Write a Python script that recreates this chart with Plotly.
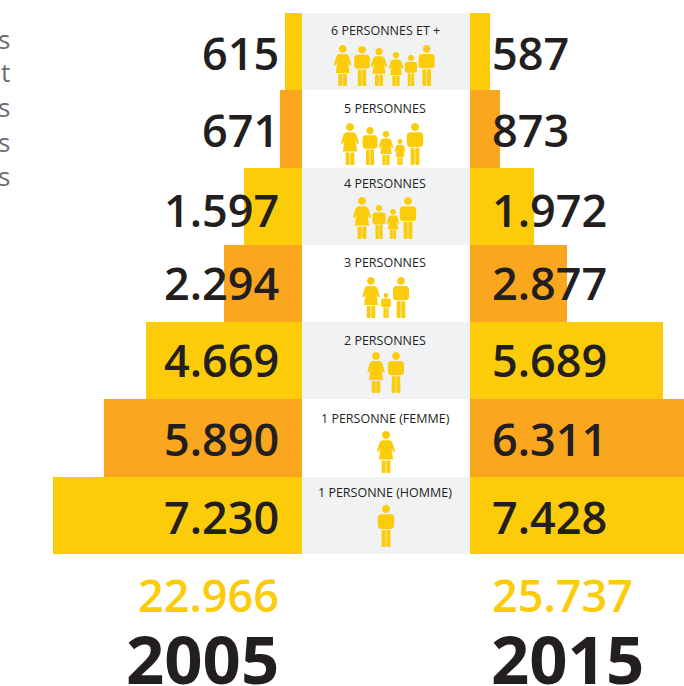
import math
import plotly.graph_objects as go

W, H = 684, 686
categories = ["6 PERSONNES ET +", "5 PERSONNES", "4 PERSONNES", "3 PERSONNES",
              "2 PERSONNES", "1 PERSONNE (FEMME)", "1 PERSONNE (HOMME)"]
labels_2005 = ["615", "671", "1.597", "2.294", "4.669", "5.890", "7.230"]
labels_2015 = ["587", "873", "1.972", "2.877", "5.689", "6.311", "7.428"]
# bar lengths
bars_2005 = [500, 647, 1706, 2294, 4588, 5824, 7324]
bars_2015 = [588, 882, 1882, 2853, 5676, 6311, 7428]
panel_fill = [1, 0, 1, 0, 1, 0, 1]
bar_colors = ["#FCCC0A", "#FAA61E", "#FCCC0A", "#FAA61E", "#FCCC0A", "#FAA61E", "#FCCC0A"]
panel_colors = ["#F0F2F4" if v else "#FFFFFF" for v in panel_fill]
total_2005, total_2015 = "22.966", "25.737"
year_2005, year_2015 = "2005", "2015"
clipped_letters = ["s", "t", "s", "s", "s"]

YELLOW, DARK = "#FCCC0A", "#231F20"
FONT = "Open Sans"
SCALE = 0.034  # px per unit

fig = go.Figure()
fig.add_bar(y=categories, x=bars_2005, orientation="h", marker=dict(color=bar_colors, line_width=0),
            xaxis="x", yaxis="y", hoverinfo="skip")
fig.add_bar(y=categories, x=bars_2015, orientation="h", marker=dict(color=bar_colors, line_width=0),
            xaxis="x2", yaxis="y", hoverinfo="skip")
fig.add_bar(y=categories, x=[1] * 7, orientation="h", marker=dict(color=panel_colors, line_width=0),
            xaxis="x3", yaxis="y", hoverinfo="skip")

PX, PY = (lambda x: x / W), (lambda y: 1 - y / H)
def path(points):
    return "M" + " L".join(f"{PX(x):.5f},{PY(y):.5f}" for x, y in points) + " Z"
def circle(cx, cy, r):
    return path([(cx + r * math.cos(i * math.pi / 12), cy + r * math.sin(i * math.pi / 12)) for i in range(24)])
def rrect(x0, y0, x1, y1, r):
    pts = []
    for cx, cy, a in ((x1 - r, y0 + r, -90), (x1 - r, y1 - r, 0), (x0 + r, y1 - r, 90), (x0 + r, y0 + r, 180)):
        for k in range(5):
            t = math.radians(a + k * 22.5)
            pts.append((cx + r * math.cos(t), cy + r * math.sin(t)))
    return path(pts)

def man(cx, top, bot):
    h = bot - top
    d = [circle(cx, top + .095 * h, .095 * h)]
    w = .195 * h
    d.append(rrect(cx - w, top + .22 * h, cx + w, top + .57 * h, .08 * h))
    lw = .105 * h
    d.append(rrect(cx - lw, top + .59 * h, cx - .008 * h, bot, .025 * h))
    d.append(rrect(cx + .008 * h, top + .59 * h, cx + lw, bot, .025 * h))
    return " ".join(d)

def woman(cx, top, bot):
    h = bot - top
    d = [circle(cx, top + .095 * h, .095 * h)]
    d.append(path([(cx - .09 * h, top + .22 * h), (cx + .09 * h, top + .22 * h),
                   (cx + .15 * h, top + .26 * h), (cx + .215 * h, top + .48 * h),
                   (cx + .17 * h, top + .5 * h), (cx + .13 * h, top + .4 * h),
                   (cx + .17 * h, top + .68 * h), (cx - .17 * h, top + .68 * h),
                   (cx - .13 * h, top + .4 * h), (cx - .17 * h, top + .5 * h),
                   (cx - .215 * h, top + .48 * h), (cx - .15 * h, top + .26 * h)]))
    lw = .105 * h
    d.append(rrect(cx - lw, top + .70 * h, cx - .008 * h, bot, .025 * h))
    d.append(rrect(cx + .008 * h, top + .70 * h, cx + lw, bot, .025 * h))
    return " ".join(d)

icons = [
    (86, [(woman, 342.7, 45), (man, 362, 46), (woman, 379, 48), (woman, 396, 52), (man, 411, 55), (man, 426.7, 45)]),
    (165, [(woman, 350, 123), (man, 370, 127), (woman, 386, 131), (woman, 400, 139), (man, 415, 123)]),
    (239, [(woman, 362, 197), (man, 379, 205), (woman, 393, 209), (man, 408, 197)]),
    (318, [(woman, 371, 277), (man, 386, 293), (man, 401, 277)]),
    (393, [(woman, 376, 352), (man, 396, 352)]),
    (473, [(woman, 386, 431)]),
    (547, [(man, 386, 505)]),
]
shapes = []
for bottom, people in icons:
    for fn, cx, top in people:
        shapes.append(dict(type="path", xref="paper", yref="paper", path=fn(cx, top, bottom),
                           fillcolor=YELLOW, line_width=0, layer="above"))

def note(text, x, y, size, color=DARK, anchor="center", weight=400):
    fig.add_annotation(text=text, xref="paper", yref="paper", x=PX(x), y=PY(y), showarrow=False,
                       xanchor=anchor, yanchor="middle", borderpad=0,
                       font=dict(family=FONT, size=size, color=color, weight=weight))

label_y = [52, 130, 209, 282, 359, 438, 516]
caption_y = [30, 108.5, 184, 262, 340, 418, 492]
for i, cat in enumerate(categories):
    note(labels_2005[i], 279.5, label_y[i], 45, anchor="right", weight=600)
    note(labels_2015[i], 490.5, label_y[i], 45, anchor="left", weight=600)
    note(cat, 385, caption_y[i], 12.5)
note(total_2005, 279.5, 594, 45, YELLOW, "right", 600)
note(total_2015, 490.5, 594, 45, YELLOW, "left", 600)
note(year_2005, 280, 658, 67, anchor="right", weight=700)
note(year_2015, 490, 658, 67, anchor="left", weight=700)
for ch, y in zip(clipped_letters, [39, 72, 107, 142, 176]):
    note(ch, 10.5, y, 26, "#6D6E71", "right")

hidden = dict(showgrid=False, zeroline=False, showticklabels=False, ticks="", showline=False, fixedrange=True)
fig.update_layout(
    width=W, height=H, margin=dict(l=0, r=0, t=0, b=0), autosize=False,
    paper_bgcolor="white", plot_bgcolor="rgba(0,0,0,0)", showlegend=False,
    barmode="overlay", bargap=0, shapes=shapes,
    xaxis=dict(domain=[0, 302 / W], range=[302 / SCALE, 0], anchor="y", **hidden),
    xaxis2=dict(domain=[470 / W, 1], range=[0, 214 / SCALE], anchor="y", **hidden),
    xaxis3=dict(domain=[302 / W, 470 / W], range=[0, 1], anchor="y", **hidden),
    yaxis=dict(domain=[1 - 554 / H, 1 - 13 / H], range=[6.5, -0.5], type="category",
               categoryorder="array", categoryarray=categories, **hidden),
)
fig.write_html("out.html", config=dict(displayModeBar=False),
               post_script="document.body.style.margin='0';")
